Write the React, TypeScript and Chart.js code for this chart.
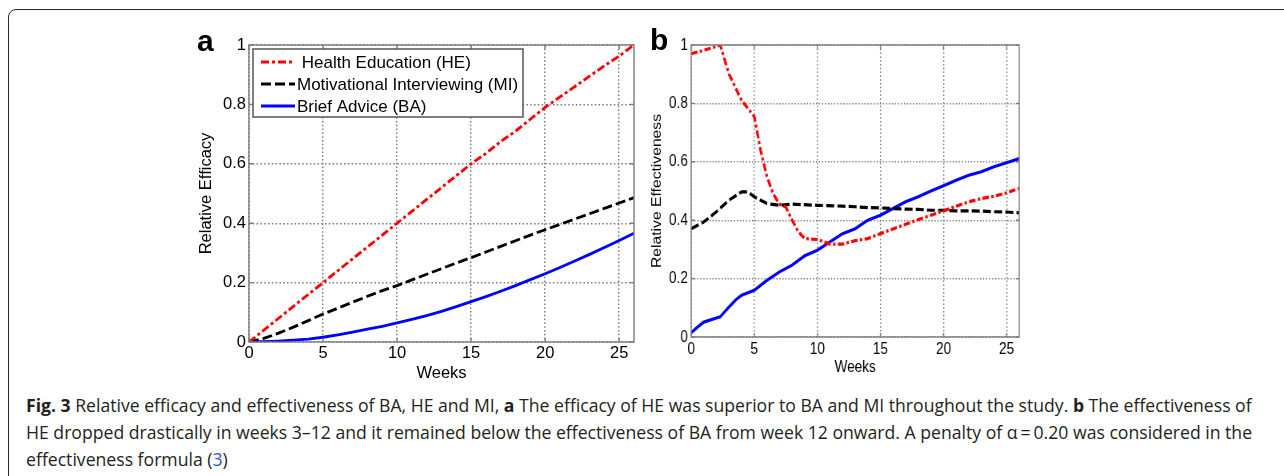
import React, { useEffect, useLayoutEffect, useRef } from "react";
import { Chart, registerables } from "chart.js";

Chart.register(...registerables);

// ---------- data ----------
const seriesLabels = [" Health Education (HE)", "Motivational Interviewing (MI)", "Brief Advice (BA)"];
const seriesColors = ["#ff0000", "#000000", "#0000ff"];

const xTickValues = [0, 5, 10, 15, 20, 25];
const xTickLabels = ["0", "5", "10", "15", "20", "25"];
const yTickValues = [0, 0.2, 0.4, 0.6, 0.8, 1];
const yTickLabels = ["0", "0.2", "0.4", "0.6", "0.8", "1"];

// Panel a: relative efficacy, weekly
const weeksA = [0, 1, 2, 3, 4, 5, 6, 7, 8, 9, 10, 11, 12, 13, 14, 15, 16, 17, 18, 19, 20, 21, 22, 23, 24, 25, 26];
const heA = [0, 0.04, 0.08, 0.12, 0.16, 0.2, 0.24, 0.28, 0.32, 0.36, 0.4, 0.44, 0.48, 0.52, 0.56, 0.6, 0.635, 0.675, 0.71, 0.75, 0.79, 0.825, 0.86, 0.895, 0.93, 0.963, 1.0];
const miA = [0, 0.012, 0.03, 0.05, 0.072, 0.094, 0.114, 0.134, 0.154, 0.173, 0.19, 0.209, 0.228, 0.247, 0.266, 0.284, 0.303, 0.322, 0.341, 0.36, 0.378, 0.396, 0.414, 0.432, 0.45, 0.468, 0.486];
const baA = [0, 0.001, 0.003, 0.006, 0.01, 0.016, 0.024, 0.033, 0.043, 0.053, 0.064, 0.076, 0.089, 0.103, 0.119, 0.136, 0.153, 0.171, 0.19, 0.21, 0.23, 0.251, 0.273, 0.295, 0.318, 0.342, 0.366];

// Panel b: relative effectiveness
const heBWeeks = [0, 1, 2, 2.3, 3, 4, 5, 5.5, 6, 6.5, 7, 7.5, 8, 8.5, 9, 10, 11, 12, 13, 14, 15, 16, 17, 18, 19, 20, 21, 22, 23, 24, 25, 26];
const heB = [0.97, 0.982, 0.995, 1.0, 0.9, 0.81, 0.755, 0.64, 0.55, 0.49, 0.455, 0.445, 0.4, 0.36, 0.337, 0.334, 0.318, 0.318, 0.33, 0.337, 0.354, 0.37, 0.386, 0.402, 0.417, 0.432, 0.448, 0.463, 0.474, 0.482, 0.494, 0.509];
const miBWeeks = [0, 1, 2, 3, 4, 4.5, 5, 6, 7, 8, 10, 12, 13, 14, 15, 16, 17, 18, 19, 20, 21, 22, 23, 24, 25, 26];
const miB = [0.371, 0.394, 0.429, 0.469, 0.497, 0.497, 0.48, 0.457, 0.451, 0.455, 0.451, 0.448, 0.446, 0.443, 0.442, 0.44, 0.438, 0.437, 0.434, 0.434, 0.432, 0.432, 0.431, 0.429, 0.428, 0.425];
const baBWeeks = [0, 0.5, 1, 2, 2.3, 3, 3.5, 4, 5, 6, 7, 8, 9, 10, 11, 12, 13, 14, 15, 16, 17, 18, 19, 20, 21, 22, 23, 24, 25, 26];
const baB = [0.015, 0.034, 0.051, 0.065, 0.069, 0.103, 0.126, 0.143, 0.16, 0.194, 0.223, 0.246, 0.278, 0.297, 0.326, 0.354, 0.371, 0.4, 0.417, 0.44, 0.463, 0.48, 0.5, 0.518, 0.537, 0.554, 0.566, 0.583, 0.597, 0.611];

const FONT = '"Liberation Sans", Arial, sans-serif';

const pts = (xs: number[], ys: number[]) => xs.map((x, i) => ({ x, y: ys[i] }));

const dashes = [[8, 3, 3, 3], [10, 4], []];

function makeDatasets(series: { x: number[]; y: number[] }[], width: number) {
  return series.map((s, i) => ({
    label: seriesLabels[i],
    data: pts(s.x, s.y),
    borderColor: seriesColors[i],
    backgroundColor: seriesColors[i],
    borderWidth: width,
    borderDash: dashes[i],
    pointRadius: 0,
    tension: 0,
    fill: false,
  }));
}

const matlabPlugin = {
  id: "matlab",
  afterDatasetsDraw(chart: any, _args: any, opts: any) {
    const { ctx, chartArea: a, scales } = chart;
    ctx.save();
    ctx.setLineDash([]);
    ctx.strokeStyle = "#7d7d7d";
    ctx.lineWidth = 1.4;
    ctx.strokeRect(a.left, a.top, a.right - a.left, a.bottom - a.top);
    const tl = 4;
    ctx.beginPath();
    for (const v of xTickValues) {
      const px = scales.x.getPixelForValue(v);
      ctx.moveTo(px, a.bottom);
      ctx.lineTo(px, a.bottom - tl);
      ctx.moveTo(px, a.top);
      ctx.lineTo(px, a.top + tl);
    }
    for (const v of yTickValues) {
      const py = scales.y.getPixelForValue(v);
      ctx.moveTo(a.left, py);
      ctx.lineTo(a.left + tl, py);
      ctx.moveTo(a.right, py);
      ctx.lineTo(a.right - tl, py);
    }
    ctx.stroke();

    if (opts && opts.legend) {
      const L = opts.legend;
      const bx = a.left + L.dx;
      const by = a.top + L.dy;
      ctx.fillStyle = "#ffffff";
      ctx.fillRect(bx, by, L.w, L.h);
      ctx.strokeStyle = "#555555";
      ctx.lineWidth = 1.5;
      ctx.strokeRect(bx, by, L.w, L.h);
      chart.data.datasets.forEach((ds: any, i: number) => {
        const y = by + L.rowY[i];
        ctx.setLineDash(ds.borderDash || []);
        ctx.strokeStyle = ds.borderColor;
        ctx.lineWidth = ds.borderWidth;
        ctx.beginPath();
        ctx.moveTo(bx + L.sx0, y - 1);
        ctx.lineTo(bx + L.sx1, y - 1);
        ctx.stroke();
        ctx.setLineDash([]);
        ctx.fillStyle = "#000000";
        ctx.font = `17px ${FONT}`;
        ctx.textBaseline = "middle";
        ctx.textAlign = "left";
        ctx.fillText(ds.label, bx + L.tx, y);
      });
    }
    ctx.restore();
  },
};

function makeConfig(datasets: any[], o: any) {
  const gridOpts = { drawTicks: false, color: "#7a7a7a", lineWidth: 1.4 };
  const font = { family: FONT, size: o.fontSize };
  return {
    type: "line" as const,
    data: { datasets },
    plugins: [matlabPlugin],
    options: {
      animation: false,
      responsive: false,
      maintainAspectRatio: false,
      devicePixelRatio: 1,
      layout: { padding: { left: 0, top: o.padTop, right: o.padRight, bottom: 0 } },
      plugins: {
        legend: { display: false },
        tooltip: { enabled: false },
        matlab: { legend: o.legend },
      },
      scales: {
        x: {
          type: "linear",
          min: 0,
          max: 26,
          afterBuildTicks: (s: any) => {
            s.ticks = xTickValues.map((v) => ({ value: v }));
          },
          afterFit: (s: any) => {
            s.height = o.xHeight;
          },
          ticks: {
            autoSkip: false,
            maxRotation: 0,
            padding: 2,
            color: "#000",
            font,
            callback: (v: number) => xTickLabels[xTickValues.indexOf(v)],
          },
          grid: gridOpts,
          border: { display: false, dash: [1.5, 2.3] },
          title: {
            display: true,
            text: "Weeks",
            color: "#000",
            font,
            padding: { top: 0, bottom: o.xTitlePad },
          },
        },
        y: {
          type: "linear",
          min: 0,
          max: 1,
          afterBuildTicks: (s: any) => {
            s.ticks = yTickValues.map((v) => ({ value: v }));
          },
          afterFit: (s: any) => {
            s.width = o.yWidth;
          },
          ticks: {
            autoSkip: false,
            padding: o.yTickPad,
            color: "#000",
            font,
            callback: (v: number) => yTickLabels[yTickValues.indexOf(v)],
          },
          grid: gridOpts,
          border: { display: false, dash: [1.5, 2.3] },
          title: {
            display: true,
            text: o.yTitle,
            color: "#000",
            font: { family: FONT, size: o.yTitleSize },
            padding: { top: o.yTitlePad, bottom: 0 },
          },
        },
      },
    },
  };
}

function Panel(props: { datasets: any[]; o: any; left: number; top: number; width: number; cssWidth: number; height: number }) {
  const ref = useRef<HTMLCanvasElement | null>(null);
  useEffect(() => {
    if (!ref.current) return;
    const chart = new Chart(ref.current, makeConfig(props.datasets, props.o) as any);
    return () => chart.destroy();
  }, []);
  return (
    <canvas
      ref={ref}
      width={props.width}
      height={props.height}
      style={{ position: "absolute", left: props.left, top: props.top, width: props.cssWidth, height: props.height }}
    />
  );
}

const CAPTION_WIDTH = 1226;

export default function App() {
  const l1 = useRef<HTMLSpanElement | null>(null);
  const l2 = useRef<HTMLSpanElement | null>(null);
  const l3 = useRef<HTMLSpanElement | null>(null);

  useLayoutEffect(() => {
    let lastScale = 1;
    for (const r of [l1, l2]) {
      const el = r.current;
      if (!el) continue;
      el.style.wordSpacing = "0px";
      el.style.transform = "none";
      const w = el.offsetWidth;
      const n = (el.textContent || "").split(" ").length - 1;
      if (w > CAPTION_WIDTH) {
        lastScale = CAPTION_WIDTH / w;
        el.style.transform = `scaleX(${lastScale})`;
      } else {
        lastScale = 1;
        el.style.wordSpacing = `${(CAPTION_WIDTH - w) / Math.max(1, n)}px`;
      }
    }
    if (l3.current && lastScale < 1) l3.current.style.transform = `scaleX(${lastScale})`;
  }, []);

  const dsA = makeDatasets(
    [
      { x: weeksA, y: heA },
      { x: weeksA, y: miA },
      { x: weeksA, y: baA },
    ],
    2.8
  );
  const dsB = makeDatasets(
    [
      { x: heBWeeks, y: heB },
      { x: miBWeeks, y: miB },
      { x: baBWeeks, y: baB },
    ],
    3.2
  );
  const optsA = {
    fontSize: 16.5,
    yTitleSize: 16.5,
    padTop: 25,
    padRight: 6,
    xHeight: 48,
    yWidth: 69,
    xTitlePad: 7,
    yTitlePad: 17,
    yTickPad: 3,
    yTitle: "Relative Efficacy",
    legend: { dx: 4, dy: 4, w: 270, h: 68, rowY: [14, 36, 58], sx0: 8, sx1: 42, tx: 44 },
  };
  // panel b is horizontally condensed (drawn at 500 px, shown at 400 px)
  const optsB = {
    fontSize: 17,
    yTitleSize: 15.7,
    padTop: 25,
    padRight: 26,
    xHeight: 53,
    yWidth: 64,
    xTitlePad: 12,
    yTitlePad: 12,
    yTickPad: 4,
    yTitle: "Relative Effectiveness",
    legend: null,
  };
  const spanStyle: React.CSSProperties = { display: "inline-block", whiteSpace: "nowrap", transformOrigin: "left center" };
  return (
    <div style={{ position: "absolute", left: 0, top: 0, width: 1284, height: 476, overflow: "hidden", background: "#fff" }}>
      <div
        style={{
          position: "absolute",
          left: 8,
          top: 9,
          width: 1300,
          height: 500,
          border: "1.6px solid #2a2a2a",
          borderTopLeftRadius: 8,
          boxSizing: "border-box",
        }}
      />
      <Panel datasets={dsA} o={optsA} left={180} top={20} width={460} cssWidth={460} height={370} />
      <Panel datasets={dsB} o={optsB} left={640} top={20} width={500} cssWidth={400} height={370} />
      <div style={{ position: "absolute", left: 197, top: 26, font: `bold 30px ${FONT}`, lineHeight: "30px", color: "#000" }}>a</div>
      <div style={{ position: "absolute", left: 650, top: 25, font: `bold 30px ${FONT}`, lineHeight: "30px", color: "#000" }}>b</div>
      <div
        style={{
          position: "absolute",
          left: 26,
          top: 392,
          width: 1300,
          fontFamily: '"Open Sans", sans-serif',
          fontSize: 18,
          lineHeight: "27px",
          color: "#231f20",
        }}
      >
        <div style={{ height: 27 }}>
          <span ref={l1} style={spanStyle}>
            <b>Fig. 3</b> Relative efficacy and effectiveness of BA, HE and MI, <b>a</b> The efficacy of HE was superior to BA and MI throughout the study. <b>b</b> The effectiveness of
          </span>
        </div>
        <div style={{ height: 27 }}>
          <span ref={l2} style={spanStyle}>
            HE dropped drastically in weeks 3–12 and it remained below the effectiveness of BA from week 12 onward. A penalty of α{"\u2009"}={"\u2009"}0.20 was considered in the
          </span>
        </div>
        <div style={{ height: 27 }}>
          <span ref={l3} style={spanStyle}>
            effectiveness formula (<span style={{ color: "#2b55d6" }}>3</span>)
          </span>
        </div>
      </div>
    </div>
  );
}
